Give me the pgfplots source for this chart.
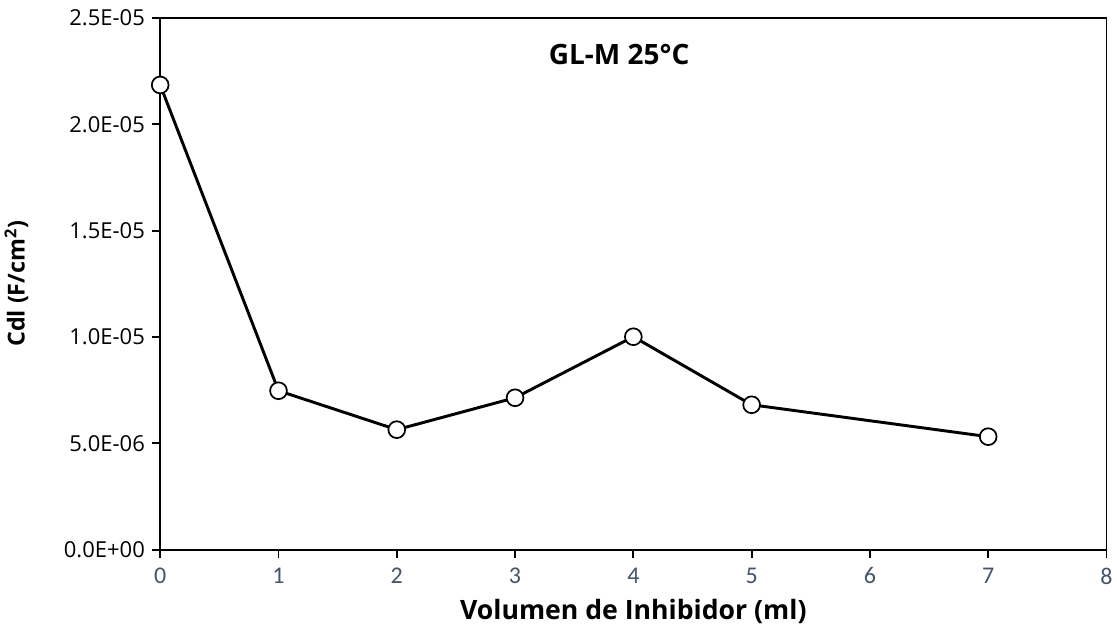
\documentclass[border=0pt]{standalone}
\usepackage{pgfplots}
\pgfplotsset{compat=1.18}
\usepackage{fontspec}
\setmainfont{Open Sans}
\newfontfamily\calibri{Carlito}
\definecolor{tickblue}{HTML}{44546A}
\begin{document}
\begin{tikzpicture}
\begin{axis}[
  scale only axis,
  width=710.25pt, height=399pt,
  xmin=0, xmax=8, ymin=0, ymax=2.5e-5,
  axis line style={line width=1.4pt},
  /pgf/number format/assume math mode=true,
  xtick={0,1,2,3,4,5,6,7,8},
  xticklabels={0,1,2,3,4,5,6,7,8},
  xticklabel style={font=\calibri\fontsize{18}{20}\selectfont, text=tickblue, yshift=-4pt},
  ytick={0,5e-6,1e-5,1.5e-5,2e-5,2.5e-5},
  yticklabels={0.0E+00,5.0E-06,1.0E-05,1.5E-05,2.0E-05,2.5E-05},
  scaled y ticks=false,
  yticklabel style={font=\fontsize{16.5}{18}\selectfont, xshift=-2pt},
  tick align=outside,
  xtick pos=bottom, ytick pos=left,
  major tick length=6pt,
  tick style={line width=1.4pt, black},
  xlabel={\bfseries Volumen de Inhibidor (ml)},
  ylabel={\bfseries Cdl (F/cm\textsuperscript{2})},
  xlabel style={font=\fontsize{20}{22}\selectfont, at={(axis description cs:0.5,0)}, anchor=center, yshift=-46.5pt},
  ylabel style={font=\fontsize{17.5}{19}\selectfont, at={(axis description cs:-0.152,0.5)}, anchor=center},
  clip=false,
]
\addplot[black, line width=2.2pt, mark=*, mark size=6.3pt,
  mark options={fill=white, draw=black, line width=1.3pt}]
  coordinates {(0,2.185e-5) (1,7.47e-6) (2,5.64e-6) (3,7.14e-6) (4,1.001e-5) (5,6.81e-6) (7,5.31e-6)};
\node[font=\bfseries\fontsize{21}{23}\selectfont] at (axis cs:3.88,2.326e-5) {GL-M 25°C};
\end{axis}
\path[use as bounding box] (-120pt,-66pt) rectangle (717.75pt,412.5pt);
\end{tikzpicture}
\end{document}
